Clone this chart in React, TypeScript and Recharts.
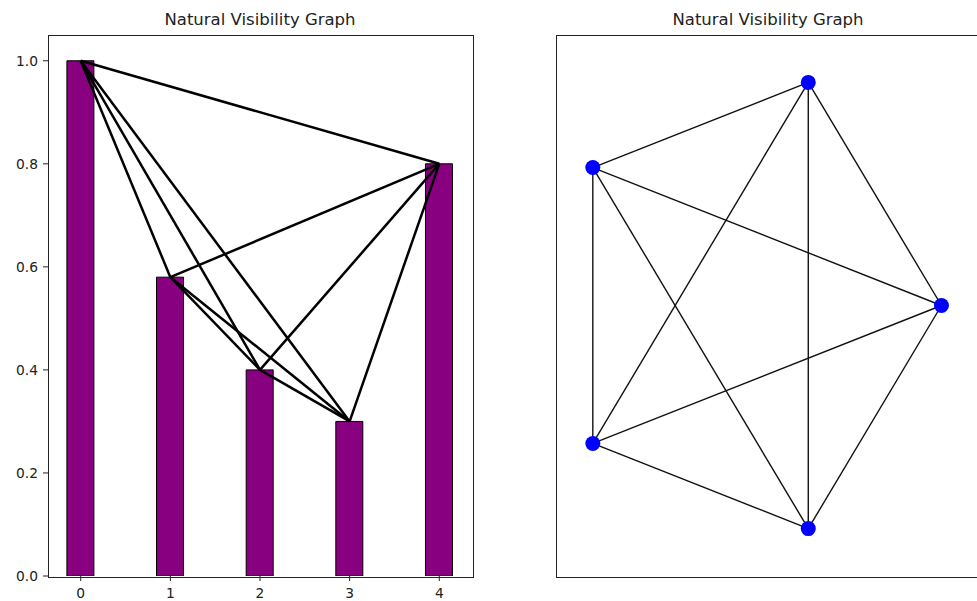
import { ComposedChart, ScatterChart, Bar, Scatter, XAxis, YAxis } from 'recharts'

// time series (bar heights) and the visibility edges between its points
const steps = [0, 1, 2, 3, 4]
const heights = [1.0, 0.58, 0.4, 0.3, 0.8]
const edges: [number, number][] = [
  [0, 1], [0, 2], [0, 3], [0, 4],
  [1, 2], [1, 3], [1, 4],
  [2, 3], [2, 4],
  [3, 4],
]
const yTicks = [0, 0.2, 0.4, 0.6, 0.8, 1.0]

// circular layout of the same five nodes
const nodeX = [1.0, 0.309, -0.809, -0.809, 0.309]
const nodeY = [0.0, 0.951, 0.588, -0.588, -0.951]

const title = 'Natural Visibility Graph'
const FONT = '"DejaVu Sans", sans-serif'
const INK = '#222'

const barData = steps.map((s, i) => ({ x: s, y: heights[i] }))
const edgeSeries = edges.map(([a, b]) => [
  { x: steps[a], y: heights[a] },
  { x: steps[b], y: heights[b] },
])
const nodes = nodeX.map((x, i) => ({ x, y: nodeY[i] }))
const graphEdges = edges.map(([a, b]) => [nodes[a], nodes[b]])

const noMark = () => <g />

const tickStyle = { fontSize: 13.8, fill: INK, fontFamily: FONT }

function Title({ left, width }: { left: number; width: number }) {
  return (
    <div
      style={{
        position: 'absolute', left, top: 10, width, textAlign: 'center',
        fontFamily: FONT, fontSize: 16.5, color: INK, lineHeight: '20px',
      }}
    >
      {title}
    </div>
  )
}

function Frame({ left, top, width, height }: { left: number; top: number; width: number; height: number }) {
  return (
    <div
      style={{
        position: 'absolute', left: left - 0.5, top: top - 0.5, width, height,
        border: `1px solid ${INK}`, pointerEvents: 'none',
      }}
    />
  )
}

export default function App() {
  return (
    <div style={{ position: 'absolute', left: 0, top: 0, width: 977, height: 601, overflow: 'hidden', background: '#fff' }}>
      <Title left={48} width={424} />
      <div style={{ position: 'absolute', left: 0, top: 0 }}>
        <ComposedChart width={480} height={601} data={barData} margin={{ top: 35, right: 8, bottom: 0, left: 0 }}>
          <XAxis
            dataKey="x" type="number" domain={[-0.365, 4.365]} ticks={steps} allowDataOverflow
            height={25} axisLine={false} tickSize={5} tickMargin={7}
            tickLine={{ stroke: INK }} tick={tickStyle}
          />
          <YAxis
            type="number" domain={[0, 1.05]} ticks={yTicks} allowDataOverflow
            width={48} axisLine={false} tickSize={5} tickMargin={5}
            tickLine={{ stroke: INK }} tick={tickStyle}
            tickFormatter={(v: number) => v.toFixed(1)}
          />
          <Bar dataKey="y" barSize={27} fill="#880080" stroke="#000" strokeWidth={1} isAnimationActive={false} />
          {edgeSeries.map((d, i) => (
            <Scatter
              key={i} data={d} dataKey="y" shape={noMark}
              line={{ stroke: '#000', strokeWidth: 2.5 }}
              isAnimationActive={false}
            />
          ))}
        </ComposedChart>
      </div>
      <Frame left={48} top={35} width={424} height={541} />

      <Title left={556} width={424} />
      <div style={{ position: 'absolute', left: 556, top: 35 }}>
        <ScatterChart width={424} height={541} margin={{ top: 0, right: 0, bottom: 0, left: 0 }}>
          <XAxis dataKey="x" type="number" domain={[-1.0, 1.2]} allowDataOverflow hide />
          <YAxis dataKey="y" type="number" domain={[-1.153, 1.153]} allowDataOverflow hide />
          {graphEdges.map((d, i) => (
            <Scatter
              key={i} data={d} shape={noMark}
              line={{ stroke: '#111', strokeWidth: 1.4 }}
              isAnimationActive={false}
            />
          ))}
          <Scatter
            data={nodes} fill="#0000ff" isAnimationActive={false}
            shape={(p: any) => <circle cx={p.cx} cy={p.cy} r={7.5} fill="#0000ff" />}
          />
        </ScatterChart>
      </div>
      <Frame left={556} top={35} width={424} height={541} />
    </div>
  )
}
